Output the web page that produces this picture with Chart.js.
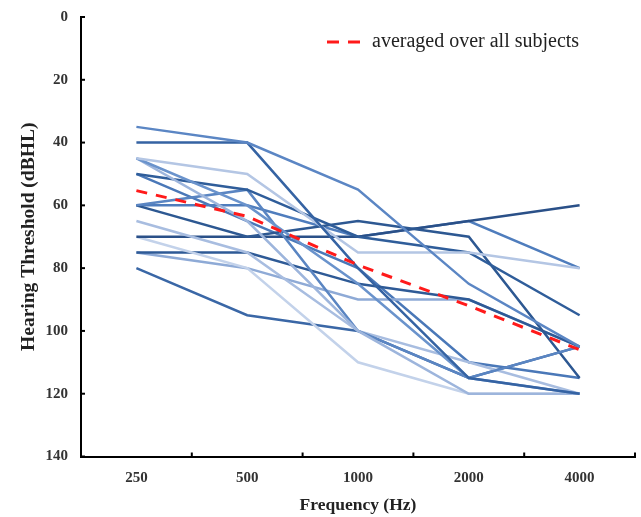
<!DOCTYPE html>
<html><head><meta charset="utf-8">
<script src="https://cdn.jsdelivr.net/npm/chart.js@4.4.0/dist/chart.umd.min.js"></script>
<style>html,body{margin:0;padding:0;background:#fff}#wrap{width:641px;height:517px}</style>
</head><body><div id="wrap"><canvas id="c" width="641" height="517"></canvas></div>
<script>
const frequencies = ['250', '500', '1000', '2000', '4000'];
const yTickValues = [0, 20, 40, 60, 80, 100, 120, 140];
const averageLabel = 'averaged over all subjects';
const average = [55.3, 63.5, 79, 92, 106];

const subject01 = [35, 40, 55, 85, 105];
const subject02 = [40, 40, 80, 115, 120];
const subject03 = [45, 50, 75, 75, 80];
const subject04 = [45, 60, 85, 115, 120];
const subject05 = [45, 65, 100, 120, 120];
const subject06 = [50, 55, 70, 75, 95];
const subject07 = [60, 55, 100, 115, 105];
const subject08 = [60, 70, 65, 70, 115];
const subject09 = [65, 75, 100, 110, 120];
const subject10 = [70, 70, 70, 65, 60];
const subject11 = [70, 80, 110, 120, 120];
const subject12 = [75, 75, 85, 90, 105];
const subject13 = [75, 80, 90, 90, 105];
const subject14 = [80, 95, 100, 115, 105];
const subject15 = [60, 60, 70, 65, 80];
const subject16 = [50, 65, 80, 110, 115];

const subjects = [subject01, subject02, subject03, subject04, subject05, subject06, subject07, subject08,
  subject09, subject10, subject11, subject12, subject13, subject14, subject15, subject16];
const subjectColors = ['#5b86c4', '#3563a3', '#b4c6e4', '#6a93cc', '#9db5dc', '#2f5d9a', '#5a85c2', '#2d5892',
  '#a8bde0', '#2a5088', '#c3d2ea', '#2e5a96', '#8eaad6', '#3a67a6', '#4f7dbd', '#4a78b8'];

const datasets = [{
  label: averageLabel, data: average, borderColor: '#ff1a1a', borderWidth: 3,
  borderDash: [11, 9], pointRadius: 0, fill: false, tension: 0
}];
subjects.forEach((s, i) => datasets.push({
  label: 'subject ' + (i + 1), data: s, borderColor: subjectColors[i], borderWidth: 2.5,
  pointRadius: 0, fill: false, tension: 0
}));

const serif = "'Liberation Serif', 'Times New Roman', serif";

const axisDecor = {
  id: 'axisDecor',
  afterDraw(chart) {
    const {ctx, chartArea, scales: {x, y}} = chart;
    ctx.save();
    ctx.strokeStyle = '#000';
    ctx.lineWidth = 2;
    yTickValues.forEach(v => {
      const py = y.getPixelForValue(v);
      ctx.beginPath(); ctx.moveTo(chartArea.left, py); ctx.lineTo(chartArea.left + 4, py); ctx.stroke();
    });
    for (let i = 0; i <= frequencies.length; i++) {
      const px = x.getPixelForValue(i - 0.5);
      ctx.beginPath(); ctx.moveTo(px, chartArea.bottom); ctx.lineTo(px, chartArea.bottom - 4); ctx.stroke();
    }
    // legend
    const ds = chart.data.datasets[0];
    const ly = chartArea.top + 25;
    const lx = 327;
    ctx.strokeStyle = ds.borderColor;
    ctx.lineWidth = 3;
    ctx.setLineDash([12, 9]);
    ctx.beginPath(); ctx.moveTo(lx, ly); ctx.lineTo(lx + 33, ly); ctx.stroke();
    ctx.setLineDash([]);
    ctx.fillStyle = '#222';
    ctx.font = "20px " + serif;
    ctx.textBaseline = 'middle';
    ctx.textAlign = 'left';
    ctx.fillText(ds.label, lx + 45, ly);
    ctx.restore();
  }
};

new Chart(document.getElementById('c'), {
  type: 'line',
  data: {labels: frequencies, datasets},
  options: {
    responsive: false,
    animation: false,
    layout: {padding: {left: 19, right: 6, top: 17, bottom: 3}},
    plugins: {legend: {display: false}, tooltip: {enabled: false}},
    scales: {
      x: {
        offset: true,
        grid: {display: false},
        border: {display: true, color: '#000', width: 2},
        ticks: {color: '#333', padding: 5, font: {family: serif, size: 15, weight: 'bold'}},
        title: {display: true, text: 'Frequency (Hz)', color: '#222', padding: {top: 4, bottom: 0},
          font: {family: serif, size: 17.5, weight: 'bold', lineHeight: 1}}
      },
      y: {
        reverse: true, min: 0, max: 140,
        grid: {display: false},
        border: {display: true, color: '#000', width: 2},
        ticks: {stepSize: 20, color: '#333', padding: 5, font: {family: serif, size: 15, weight: 'bold'}},
        title: {display: true, text: 'Hearing Threshold (dBHL)', color: '#222', padding: {top: 0, bottom: 2},
          font: {family: serif, size: 19.5, weight: 'bold', lineHeight: 1}}
      }
    }
  },
  plugins: [axisDecor]
});
</script></body></html>
